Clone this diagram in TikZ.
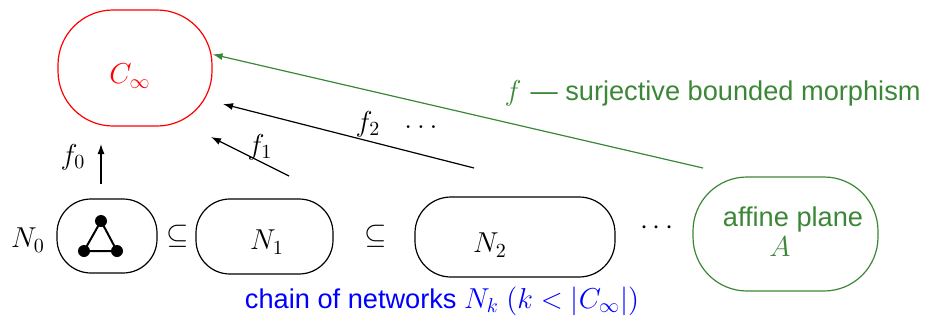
\documentclass[tikz,border=0pt]{standalone}
\usepackage{fontspec}
\newfontfamily\hv[Ligatures=TeX]{Liberation Sans}
\usetikzlibrary{arrows.meta}
\definecolor{mygreen}{RGB}{60,135,55}
\begin{document}
\begin{tikzpicture}[x=0.5pt,y=-0.5pt,
  box/.style={draw, line width=0.6pt, inner sep=0pt, rectangle},
  lbl/.style={inner sep=0pt, font=\fontsize{14}{16}\selectfont},
  slbl/.style={inner sep=0pt, font=\fontsize{13.6}{16}\selectfont},
  dotn/.style={circle, fill=black, inner sep=0pt, minimum size=6pt},
  arr/.style={line width=0.6pt, -{Latex[length=5pt,width=3.5pt]}}]
\useasboundingbox (0,0) rectangle (926,322);
% boxes
\node[box, red, minimum width=77pt, minimum height=58pt, rounded corners=27.5pt] (cinf) at (135,68) {};
\node[lbl, red] (cinfl) at (130,76) {$C_\infty$};
\node[box, minimum width=50pt, minimum height=37pt, rounded corners=17pt] (n0) at (107,236) {};
\node[box, minimum width=68.5pt, minimum height=37.5pt, rounded corners=17pt] (n1) at (264.5,236.5) {};
\node[box, minimum width=100pt, minimum height=40pt, rounded corners=18pt] (n2) at (515,237) {};
\node[box, mygreen, minimum width=92.5pt, minimum height=57pt, rounded corners=27pt] (aff) at (785.5,234) {};
% labels
\node[lbl] (n0l) at (28,240) {$N_0$};
\node[lbl] (n1l) at (267,242) {$N_1$};
\node[lbl] (n2l) at (490,245) {$N_2$};
\node[lbl] (sub1) at (178,236) {$\subseteq$};
\node[lbl] (sub2) at (376,236) {$\subseteq$};
\node[lbl] (dots2) at (657,228) {$\cdots$};
\node[slbl, mygreen] (affl) at (793,219) {\hv affine plane};
\node[lbl, mygreen] (al) at (780,247) {$A$};
\node[slbl, blue] (chain) at (442,301) {\hv chain of networks $N_k$ $(k<|C_\infty|)$};
% triangle
\node[dotn] (t1) at (101,221) {};
\node[dotn] (t2) at (84,251) {};
\node[dotn] (t3) at (117,251) {};
\draw[line width=1pt] (t1.center) -- (t2.center) -- (t3.center) -- cycle;
% arrows
\coordinate (f0s) at (101,184);
\coordinate (f0e) at (101,144);
\draw[arr] (f0s) -- (f0e);
\node[lbl] (f0l) at (73,157) {$f_0$};
\coordinate (f1s) at (289,176);
\coordinate (f1e) at (211,137);
\draw[arr] (f1s) -- (f1e);
\node[lbl] (f1l) at (260,147) {$f_1$};
\coordinate (f2s) at (474,168);
\coordinate (f2e) at (223,104);
\draw[arr] (f2s) -- (f2e);
\node[lbl] (f2l) at (368,124) {$f_2$};
\node[lbl] (dots1) at (421,127) {$\dots$};
\coordinate (fs) at (703,168);
\draw[arr, mygreen] (fs) -- (cinf.10);
\node[slbl, mygreen, anchor=east] (fl) at (921,93) {$f$ \hv — surjective bounded morphism};
\end{tikzpicture}
\end{document}
